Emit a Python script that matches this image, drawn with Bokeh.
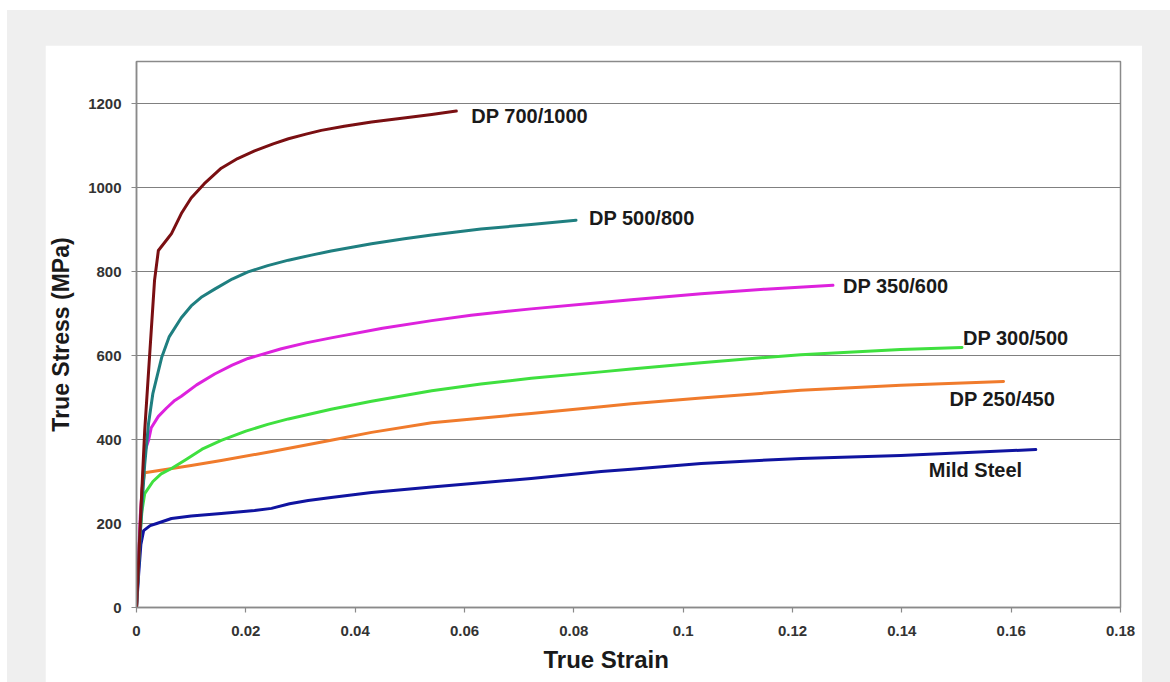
from bokeh.plotting import figure
from bokeh.models import Range1d, FixedTicker, ColumnDataSource, Title
from bokeh.layouts import column
from bokeh.embed import file_html
from bokeh.resources import INLINE
from bokeh.core.properties import value

# ---------------- data ----------------
series_names = ["DP 700/1000", "DP 500/800", "DP 350/600", "DP 300/500", "DP 250/450", "Mild Steel"]

dp700_x = [0, 0.0008, 0.0015, 0.0027, 0.0033, 0.0040, 0.0055, 0.0064, 0.0082, 0.0100, 0.0124,
           0.0155, 0.0185, 0.0216, 0.0250, 0.0278, 0.0310, 0.0338, 0.0380, 0.0430, 0.0500,
           0.0540, 0.0585]
dp700_y = [0, 230, 421, 660, 779, 850, 875, 890, 938, 975, 1009,
           1046, 1069, 1087, 1104, 1116, 1127, 1136, 1146, 1156, 1167,
           1174, 1182]

dp500_x = [0, 0.0008, 0.0015, 0.0022, 0.0030, 0.0046, 0.0060, 0.0082, 0.0100, 0.0120, 0.0143,
           0.0175, 0.0204, 0.0240, 0.0278, 0.0320, 0.0356, 0.0430, 0.0490, 0.0540, 0.0630,
           0.0722, 0.0804]
dp500_y = [0, 200, 340, 438, 510, 595, 645, 690, 718, 740, 758,
           782, 799, 814, 827, 839, 849, 866, 878, 887, 901,
           912, 922]

dp350_x = [0, 0.0007, 0.0015, 0.0022, 0.0027, 0.0040, 0.0055, 0.0070, 0.0082, 0.0110, 0.0143,
           0.0175, 0.0204, 0.0265, 0.0310, 0.0356, 0.0450, 0.0540, 0.0612, 0.0722, 0.0850,
           0.0905, 0.1033, 0.1150, 0.1274]
dp350_y = [0, 220, 370, 398, 428, 455, 475, 493, 503, 530, 556,
           577, 593, 616, 630, 642, 665, 683, 696, 711, 726,
           733, 747, 758, 767]

dp300_x = [0, 0.0005, 0.0010, 0.0015, 0.0030, 0.0045, 0.0064, 0.0090, 0.0120, 0.0155, 0.0200,
           0.0240, 0.0278, 0.0356, 0.0430, 0.0540, 0.0630, 0.0722, 0.0850, 0.0905, 0.1033,
           0.1215, 0.1398, 0.1510]
dp300_y = [0, 150, 230, 271, 300, 318, 331, 352, 377, 398, 420,
           436, 449, 472, 491, 516, 532, 546, 561, 568, 583,
           602, 614, 619]

dp250_x = [0, 0.0005, 0.0010, 0.0015, 0.0050, 0.0100, 0.0155, 0.0250, 0.0356, 0.0430, 0.0540,
           0.0722, 0.0850, 0.0905, 0.1033, 0.1215, 0.1398, 0.1586]
dp250_y = [0, 150, 280, 321, 328, 338, 350, 372, 398, 417, 440,
           462, 478, 485, 499, 517, 529, 538]

mild_x = [0, 0.0004, 0.0008, 0.0013, 0.0025, 0.0037, 0.0064, 0.0100, 0.0155, 0.0216, 0.0247,
          0.0280, 0.0314, 0.0356, 0.0430, 0.0540, 0.0722, 0.0850, 0.0905, 0.1033, 0.1215,
          0.1398, 0.1645]
mild_y = [0, 80, 150, 183, 195, 200, 212, 218, 224, 231, 236,
          247, 255, 262, 274, 287, 307, 324, 329, 343, 355,
          362, 376]

x_tick_labels = ["0", "0.02", "0.04", "0.06", "0.08", "0.1", "0.12", "0.14", "0.16", "0.18"]
y_tick_labels = ["0", "200", "400", "600", "800", "1000", "1200"]

x_title = "True Strain"
y_title = "True Stress (MPa)"

# ---------------- styles ----------------
colors = ["#7a0f12", "#1f7f80", "#dd22dd", "#3fe03f", "#f07b2c", "#1014a0"]
label_dx = [15, 13, 10, 1, -54, -107]
label_dy = [5, -2, 1, -10, 17, 20]

FONT = "Liberation Sans"

p = figure(width=1097, height=637, output_backend="svg", toolbar_location=None,
           x_range=Range1d(0, 0.18), y_range=Range1d(0, 1300),
           min_border_left=90, min_border_right=22, min_border_top=16, min_border_bottom=75,
           margin=(35, 28, 0, 38),
           background_fill_color="white", border_fill_color="white")

p.outline_line_color = "#8a8a8a"
p.outline_line_width = 1.5

xs_all = [dp700_x, dp500_x, dp350_x, dp300_x, dp250_x, mild_x]
ys_all = [dp700_y, dp500_y, dp350_y, dp300_y, dp250_y, mild_y]

for xs, ys, c in list(zip(xs_all, ys_all, colors))[::-1]:
    p.line(xs, ys, line_color=c, line_width=3, line_join="round", line_cap="round")

lab_src = ColumnDataSource(dict(
    x=[xs[-1] for xs in xs_all],
    y=[ys[-1] for ys in ys_all],
    text=series_names,
    dx=label_dx,
    dy=label_dy,
))
p.text(x="x", y="y", text="text", x_offset="dx", y_offset="dy", source=lab_src,
       text_font=value(FONT), text_font_style="bold", text_font_size="20px",
       text_color="#1a1a1a", text_align="left", text_baseline="middle")

x_ticks = [float(s) for s in x_tick_labels]
y_ticks = [float(s) for s in y_tick_labels]
p.xaxis.ticker = FixedTicker(ticks=x_ticks)
p.yaxis.ticker = FixedTicker(ticks=y_ticks)
p.xaxis.major_label_overrides = {t: s for t, s in zip(x_ticks, x_tick_labels)}
p.yaxis.major_label_overrides = {t: s for t, s in zip(y_ticks, y_tick_labels)}

for ax in (p.xaxis[0], p.yaxis[0]):
    ax.axis_line_color = "#8a8a8a"
    ax.axis_line_width = 1.5
    ax.major_tick_line_color = "#8a8a8a"
    ax.major_tick_line_width = 1.2
    ax.major_tick_in = 0
    ax.major_tick_out = 5
    ax.minor_tick_line_color = None
    ax.major_label_text_font = FONT
    ax.major_label_text_font_style = "bold"
    ax.major_label_text_font_size = "15px"
    ax.major_label_text_color = "#333333"
    ax.axis_label_text_font = FONT
    ax.axis_label_text_font_style = "bold"
    ax.axis_label_text_color = "#1a1a1a"

p.yaxis.axis_label_text_font_size = "23px"
p.yaxis.axis_label = y_title
p.xaxis.major_label_standoff = 13
p.yaxis.major_label_standoff = 10
p.yaxis.axis_label_standoff = 11

# x-axis title sits a little left of the frame centre in the reference
p.add_layout(Title(text=x_title, align="left", offset=407, standoff=10,
                   text_font=FONT, text_font_style="bold", text_font_size="24px",
                   text_color="#1a1a1a"), "below")

p.xgrid.visible = False
p.ygrid.grid_line_color = "#808080"
p.ygrid.grid_line_width = 1

layout = column(p, width=1163, height=672, margin=(10, 0, 0, 7),
                styles={"background-color": "#efefef"})

open("out.html", "w").write(file_html(layout, INLINE))
